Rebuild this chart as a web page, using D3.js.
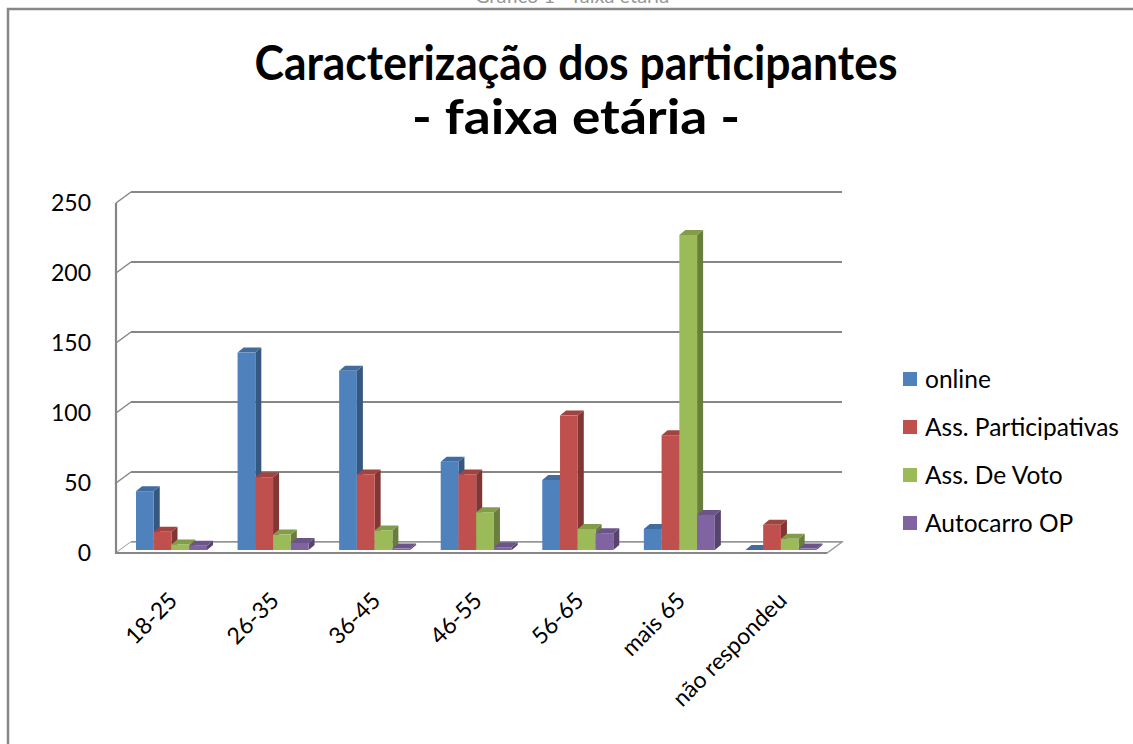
<!DOCTYPE html>
<html>
<head>
<meta charset="utf-8">
<script src="https://cdn.jsdelivr.net/npm/d3@7"></script>
<style>
  body { margin: 0; background: #fff; }
  text { font-family: Lato, "Open Sans", sans-serif; }
</style>
</head>
<body>
<svg id="chart" width="1133" height="744"></svg>
<script>
// Data
const categories = ["18-25", "26-35", "36-45", "46-55", "56-65", "mais 65", "não respondeu"];
const seriesNames = ["online", "Ass. Participativas", "Ass. De Voto", "Autocarro OP"];
const online = [42, 141, 128, 63, 50, 15, 0];
const assParticipativas = [13, 52, 54, 54, 96, 82, 18];
const assDeVoto = [4, 11, 14, 27, 15, 225, 8];
const autocarroOP = [3, 5, 1, 2, 12, 25, 1];
const yTicks = [0, 50, 100, 150, 200, 250];
const colors = ["#4F81BD", "#C0504D", "#9BBB59", "#8064A2"];

const values = [online, assParticipativas, assDeVoto, autocarroOP];

const svg = d3.select("#chart");

/* chart frame, cut off at right and bottom like the screenshot */
svg.append("text")
    .attr("x", 572).attr("y", 3)
    .attr("text-anchor", "middle")
    .attr("font-size", 20).attr("fill", "#999")
    .text("Gráfico 1 - faixa etária");
svg.append("rect")
    .attr("x", 8).attr("y", 9)
    .attr("width", 1140).attr("height", 760)
    .attr("fill", "#fff")
    .attr("stroke", "#878787").attr("stroke-width", 2.5);

/* title */
svg.append("text")
    .attr("x", 576).attr("y", 80)
    .attr("text-anchor", "middle")
    .attr("font-size", 47).attr("font-weight", "bold")
    .attr("textLength", 643).attr("lengthAdjust", "spacingAndGlyphs")
    .text("Caracterização dos participantes");
svg.append("text")
    .attr("x", 576).attr("y", 134)
    .attr("text-anchor", "middle")
    .attr("font-size", 47).attr("font-weight", "bold")
    .attr("textLength", 328).attr("lengthAdjust", "spacingAndGlyphs")
    .text("- faixa etária -");

/* scales: front plane, back wall (shifted by depth) and bars */
const depth = { dx: 15, dy: -11 };
const x = d3.scaleBand().domain(categories).range([116, 827]);
const xs = d3.scaleBand().domain(seriesNames).range([20, 91]);
const yFront = d3.scaleLinear().domain([0, 250]).range([553, 203]);
const yBar = d3.scaleLinear().domain([0, 250]).range([550, 200]);
const barDepth = { dx: 6, dy: -5 };

/* back wall gridlines */
const grid = svg.append("g");
grid.selectAll("line.grid")
    .data(yTicks)
    .join("line")
        .attr("class", "grid")
        .attr("x1", 116 + depth.dx)
        .attr("x2", 827 + depth.dx)
        .attr("y1", d => yFront(d) + depth.dy)
        .attr("y2", d => yFront(d) + depth.dy)
        .attr("stroke", "#868686").attr("stroke-width", 2.2);
grid.selectAll("line.tick")
    .data(yTicks)
    .join("line")
        .attr("class", "tick")
        .attr("x1", 116)
        .attr("x2", 116 + depth.dx)
        .attr("y1", d => yFront(d))
        .attr("y2", d => yFront(d) + depth.dy)
        .attr("stroke", "#868686").attr("stroke-width", 1.5);

/* floor */
const y0 = yFront(0);
svg.append("path")
    .attr("d", `M116,${y0} L827,${y0} L${827 + depth.dx},${y0 + depth.dy} L${116 + depth.dx},${y0 + depth.dy}`)
    .attr("fill", "#fff")
    .attr("stroke", "#9a9a9a").attr("stroke-width", 1.5);
svg.append("line")
    .attr("x1", 116).attr("x2", 827)
    .attr("y1", y0).attr("y2", y0)
    .attr("stroke", "#868686").attr("stroke-width", 2);

/* left axis */
svg.append("line")
    .attr("x1", 116).attr("x2", 116)
    .attr("y1", yFront(250)).attr("y2", y0 + 1)
    .attr("stroke", "#868686").attr("stroke-width", 2.2);
svg.append("g").selectAll("text")
    .data(yTicks)
    .join("text")
        .attr("x", 91)
        .attr("y", d => yFront(d))
        .attr("dy", "0.35em")
        .attr("text-anchor", "end")
        .attr("font-size", 23)
        .text(d => d);

/* 3d bars */
const bw = xs.bandwidth();
const bars = svg.append("g");
categories.forEach((c, ci) => {
    seriesNames.forEach((s, si) => {
        const v = values[si][ci];
        const bx = x(c) + xs(s);
        const top = yBar(v);
        const bottom = yBar(0);
        const base = d3.color(colors[si]);
        const g = bars.append("g");
        // side face
        g.append("path")
            .attr("d", `M${bx + bw},${top} L${bx + bw + barDepth.dx},${top + barDepth.dy} L${bx + bw + barDepth.dx},${bottom + barDepth.dy} L${bx + bw},${bottom}Z`)
            .attr("fill", base.darker(1.1));
        // top face
        g.append("path")
            .attr("d", `M${bx},${top} L${bx + barDepth.dx},${top + barDepth.dy} L${bx + bw + barDepth.dx},${top + barDepth.dy} L${bx + bw},${top}Z`)
            .attr("fill", base.darker(0.5));
        // front face
        g.append("rect")
            .attr("x", bx).attr("y", top)
            .attr("width", bw).attr("height", bottom - top)
            .attr("fill", colors[si]);
    });
});

/* category labels */
svg.append("g").selectAll("text")
    .data(categories)
    .join("text")
        .attr("text-anchor", "end")
        .attr("font-size", 23)
        .attr("transform", d => `translate(${x(d) + x.bandwidth() / 2 + 12},${y0 + 49}) rotate(-45)`)
        .text(d => d);

/* legend */
const legend = svg.append("g").attr("transform", "translate(903,379)");
legend.selectAll("rect")
    .data(seriesNames)
    .join("rect")
        .attr("x", 0)
        .attr("y", (d, i) => i * 48 - 7)
        .attr("width", 14).attr("height", 14)
        .attr("fill", (d, i) => colors[i]);
legend.selectAll("text")
    .data(seriesNames)
    .join("text")
        .attr("x", 22)
        .attr("y", (d, i) => i * 48)
        .attr("dy", "0.35em")
        .attr("font-size", 24.5)
        .text(d => d);
</script>
</body>
</html>
